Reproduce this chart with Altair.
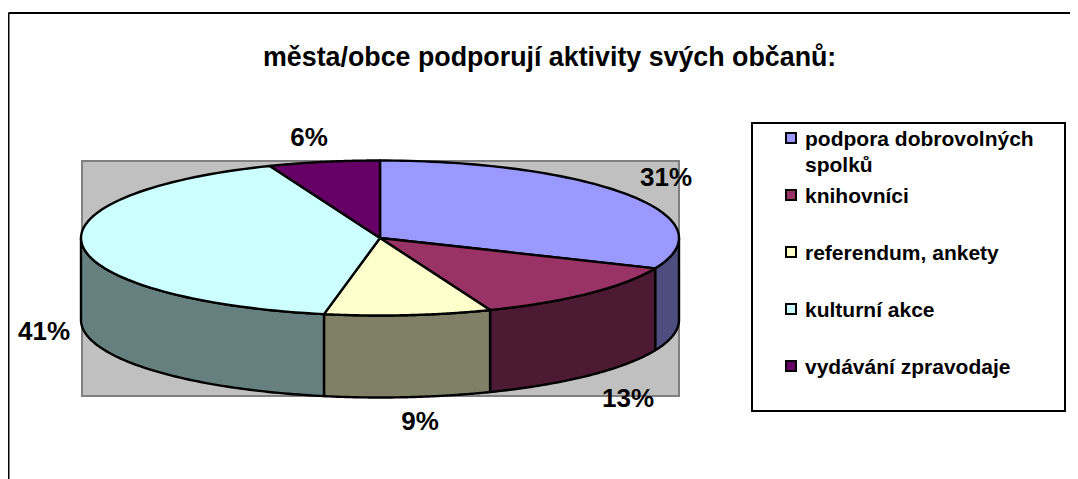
import numpy as np
import pandas as pd
import altair as alt

TITLE = "města/obce podporují aktivity svých občanů:"
CATEGORIES = ["podpora dobrovolných spolků", "knihovníci", "referendum, ankety", "kulturní akce", "vydávání zpravodaje"]
VALUES = [31.4, 12.6, 9, 41, 6]
COLORS = ["#9999FF", "#993366", "#FFFFCC", "#CCFFFF", "#660066"]
SIDE_COLORS = ["#4D4D80", "#4D1A33", "#808066", "#668080", "#330033"]

FONT = "Liberation Sans"
CX, CY, RX, RY, DEPTH = 380.0, 238.0, 299.0, 77.5, 82.0
W, H = 1062, 471
OFF = 8


def ellipse(t, dy=0.0):
    return CX + RX * np.sin(t), CY - RY * np.cos(t) + dy


tops, sides = [], []
edges = np.cumsum([0] + VALUES) / sum(VALUES) * 2 * np.pi
for i, (a, b) in enumerate(zip(edges[:-1], edges[1:])):
    t = np.linspace(a, b, 80)
    x, y = ellipse(t)
    px = np.r_[CX, x, CX]
    py = np.r_[CY, y, CY]
    tops += [dict(piece=i, seq=j, x=u, y=v, fill=COLORS[i]) for j, (u, v) in enumerate(zip(px, py))]
    lo, hi = max(a, np.pi / 2), min(b, 3 * np.pi / 2)
    if lo < hi:
        t = np.linspace(lo, hi, 80)
        x, y = ellipse(t)
        xb, yb = ellipse(t[::-1], DEPTH)
        px = np.r_[x, xb, x[0]]
        py = np.r_[y, yb, y[0]]
        sides += [dict(piece=i, seq=j, x=u, y=v, fill=SIDE_COLORS[i]) for j, (u, v) in enumerate(zip(px, py))]

xs = alt.Scale(domain=[OFF, OFF + W], range=[0, W])
ys = alt.Scale(domain=[OFF + H, OFF], range=[H, 0])
X = alt.X("x:Q", scale=xs, axis=None)
Y = alt.Y("y:Q", scale=ys, axis=None)
one = pd.DataFrame({"k": [0]})


def poly(rows):
    return alt.Chart(pd.DataFrame(rows)).mark_line(stroke="black", strokeWidth=2.4, strokeJoin="round").encode(
        x=X, y=Y, order="seq:Q", detail="piece:N", fill=alt.Fill("fill:N", scale=None)
    )


def box(x0, x1, y0, y1, **kw):
    return alt.Chart(one).mark_rect(**kw).encode(
        x=alt.value(x0 - OFF), x2=alt.value(x1 - OFF), y=alt.value(y0 - OFF), y2=alt.value(y1 - OFF)
    )


def text(s, x, y, size, align="left"):
    return alt.Chart(one).mark_text(
        text=s, font=FONT, fontWeight="bold", fontSize=size, align=align, baseline="middle", color="black"
    ).encode(x=alt.value(x - OFF), y=alt.value(y - OFF))


layers = [
    alt.Chart(one).mark_rule(color="black", strokeWidth=2).encode(
        x=alt.value(0.5), x2=alt.value(W), y=alt.value(13 - OFF)),
    alt.Chart(one).mark_rule(color="black", strokeWidth=2).encode(
        x=alt.value(0.5), y=alt.value(13 - OFF), y2=alt.value(H)),
    text(TITLE, 263, 58, 26.8),
    box(836, 860, 40, 75, fill="white"),
    box(82, 679, 161, 396, fill="#C0C0C0", stroke="#808080", strokeWidth=2),
    poly(sides),
    poly(tops),
]

LABEL_POS = [(666, 178), (628, 399), (420, 422), (44, 332), (309, 138)]
for v, (x, y) in zip(VALUES, LABEL_POS):
    layers.append(text(f"{round(v)}%", x, y, 26, "center"))

layers.append(box(752, 1065, 123, 411, fill="white", stroke="black", strokeWidth=2))
SWATCH_Y = [138, 195, 252, 309, 366]
LINES = [["podpora dobrovolných", "spolků"], [CATEGORIES[1]], [CATEGORIES[2]], [CATEGORIES[3]], [CATEGORIES[4]]]
for c, y, lines in zip(COLORS, SWATCH_Y, LINES):
    layers.append(box(786, 796, y - 5, y + 5, fill=c, stroke="black", strokeWidth=2))
    for k, ln in enumerate(lines):
        layers.append(text(ln, 805, y + 2 + 26 * k, 21))

chart = alt.layer(*layers).properties(
    width=W, height=H, padding=0, autosize=alt.AutoSizeParams(type="none"), background="white"
).configure_view(stroke=None)

chart.save("out.html", embed_options={"renderer": "svg", "actions": False})
